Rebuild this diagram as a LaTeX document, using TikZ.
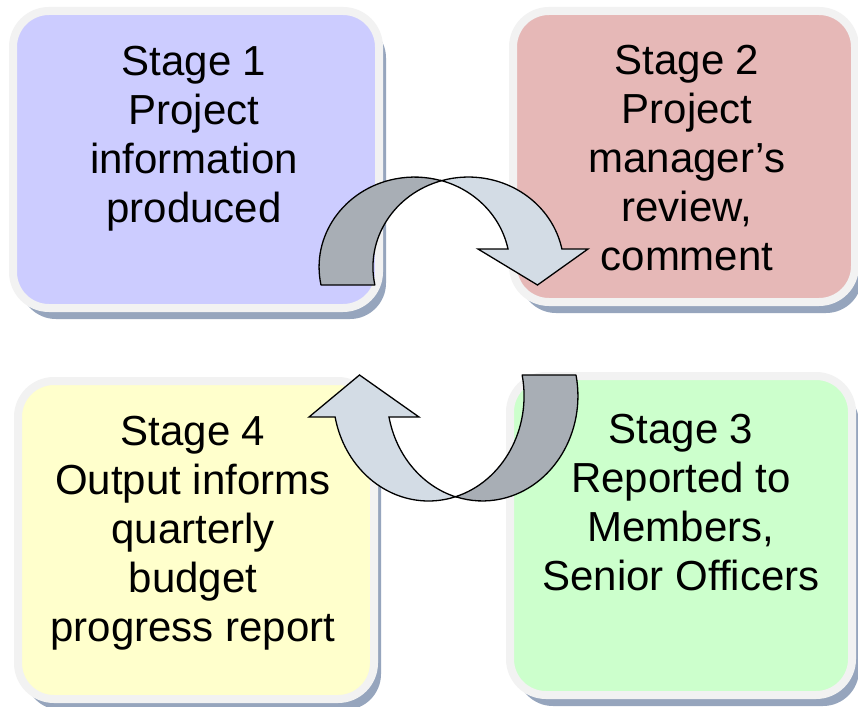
\documentclass[tikz,border=0pt]{standalone}
\usepackage{fontspec}
\setmainfont{Liberation Sans}
\usetikzlibrary{positioning,shadows}

\definecolor{stageblue}{RGB}{204,204,255}
\definecolor{stagered}{RGB}{230,184,183}
\definecolor{stagegreen}{RGB}{204,255,204}
\definecolor{stageyellow}{RGB}{255,255,204}
\definecolor{rimgrey}{RGB}{242,242,242}
\definecolor{shadowblue}{RGB}{150,165,189}
\definecolor{arrowback}{RGB}{168,174,181}
\definecolor{arrowfront}{RGB}{211,220,229}

\tikzset{
  stagebox/.style={rectangle, rounded corners=36pt, draw=rimgrey, line width=8pt,
    outer sep=0pt, inner sep=0pt,
    drop shadow={shadow xshift=7pt, shadow yshift=-11pt, fill=shadowblue, opacity=1}},
  stagetext/.style={align=center, inner sep=0pt, font=\fontsize{42}{49}\selectfont},
  bandback/.style={fill=arrowback, draw=black, line width=1.3pt, line join=round},
  bandfront/.style={fill=arrowfront, draw=black, line width=1.3pt},
}

% curved block arrow: dark half from the tail, light half into the head
\newcommand{\curvedblock}{%
  \draw[bandback] (-120.5,18)
    arc[start angle=168.5, end angle=286.4, x radius=95.4, y radius=90]
    arc[start angle=253.6, end angle=168.5, x radius=95.4, y radius=90] -- cycle;
  \draw[bandfront] (0,-86.3)
    arc[start angle=253.6, end angle=348.5, x radius=95.4, y radius=90]
    -- (146.5,-18) -- (96,18) -- (36.5,-18) -- (66.5,-18)
    arc[start angle=348.5, end angle=286.4, x radius=95.4, y radius=90] -- cycle;
}

\begin{document}
\begin{tikzpicture}[x=1pt,y=-1pt]
  \useasboundingbox (0,0) rectangle (858,706);
  \fill[white] (0,0) rectangle (858,706);

  % the four stages
  \node[stagebox, fill=stageblue,   minimum width=366pt, minimum height=297pt] (s1) at (196,159.5) {};
  \node[stagebox, fill=stagered,    minimum width=342pt, minimum height=291pt] (s2) at (684,156.5) {};
  \node[stagebox, fill=stagegreen,  minimum width=342pt, minimum height=319pt] (s3) at (681,535.5) {};
  \node[stagebox, fill=stageyellow, minimum width=356pt, minimum height=318pt] (s4) at (196,540) {};

  \node[stagetext, below=34.5pt of s1.north, xshift=-2pt] (t1) {Stage 1\\Project\\information\\produced};
  \node[stagetext, below=33.5pt of s2.north, xshift=3pt] (t2) {Stage 2\\Project\\manager’s\\review,\\comment};
  \node[stagetext, below=38pt of s3.north] (t3) {Stage 3\\Reported to\\Members,\\Senior Officers};
  \node[stagetext, below=34.5pt of s4.north, xshift=-3pt] (t4) {Stage 4\\Output informs\\quarterly\\budget\\progress report};

  % arrows between the stages
  \coordinate (a12) at (441.5,267);
  \coordinate (a34) at (455.5,396);
  \begin{scope}[shift={(a12)}]
    \curvedblock
  \end{scope}
  \begin{scope}[shift={(a34)}, xscale=-1, yscale=-1.167]
    \curvedblock
  \end{scope}
\end{tikzpicture}
\end{document}
